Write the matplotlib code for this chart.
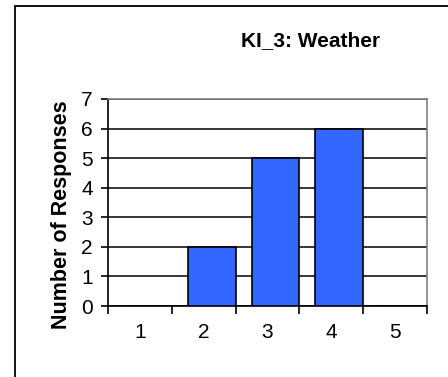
import matplotlib.pyplot as plt
from matplotlib.patches import Rectangle

# Responses per rating
categories = [1, 2, 3, 4, 5]
responses = [0, 2, 5, 6, 0]
title = 'KI_3: Weather'
ylabel = 'Number of Responses'

plt.rcParams['font.family'] = ['Liberation Sans', 'DejaVu Sans']

W, H = 448, 377
fig = plt.figure(figsize=(W / 100, H / 100), dpi=100)

# outer chart frame (runs off the right and bottom edges)
fig.patches.append(Rectangle((15 / W, -0.05), 1.1, (H - 6) / H + 0.05,
                             transform=fig.transFigure, fill=False,
                             edgecolor='black', linewidth=1.3))

ax = fig.add_axes([108 / W, (H - 306) / H, (427 - 108) / W, (306 - 99) / H])

# bars sit in the right three quarters of each category slot
ax.bar([c + 0.125 for c in categories], responses, width=0.75,
       color='#3366FF', edgecolor='black', linewidth=1.2, zorder=3)

ax.set_xlim(0.5, 5.5)
ax.set_ylim(0, 7)
ax.set_yticks(range(0, 8))
ax.yaxis.grid(True, color='black', linewidth=1.1, zorder=0)
ax.set_axisbelow(True)

ax.set_xticks([c - 0.5 for c in categories] + [5.5])
ax.set_xticklabels([])
ax.set_xticks(categories, minor=True)
ax.set_xticklabels([str(c) for c in categories], minor=True)
ax.tick_params(axis='x', which='major', direction='out', length=6, width=1.2)
ax.tick_params(axis='x', which='minor', length=0, pad=12, labelsize=15)
ax.tick_params(axis='y', direction='out', length=5, width=1.2, pad=6, labelsize=15)

for s in ['left', 'bottom']:
    ax.spines[s].set_color('black')
    ax.spines[s].set_linewidth(1.2)
for s in ['top', 'right']:
    ax.spines[s].set_color('#808080')
    ax.spines[s].set_linewidth(1.2)

fig.text(311 / W, 1 - 41 / H, title, ha='center', va='center',
         fontsize=15, fontweight='bold')
fig.text(61 / W, 1 - 215 / H, ylabel, ha='center', va='center',
         rotation=90, fontsize=15.5, fontweight='bold')

fig.savefig('out.png', dpi=100)
